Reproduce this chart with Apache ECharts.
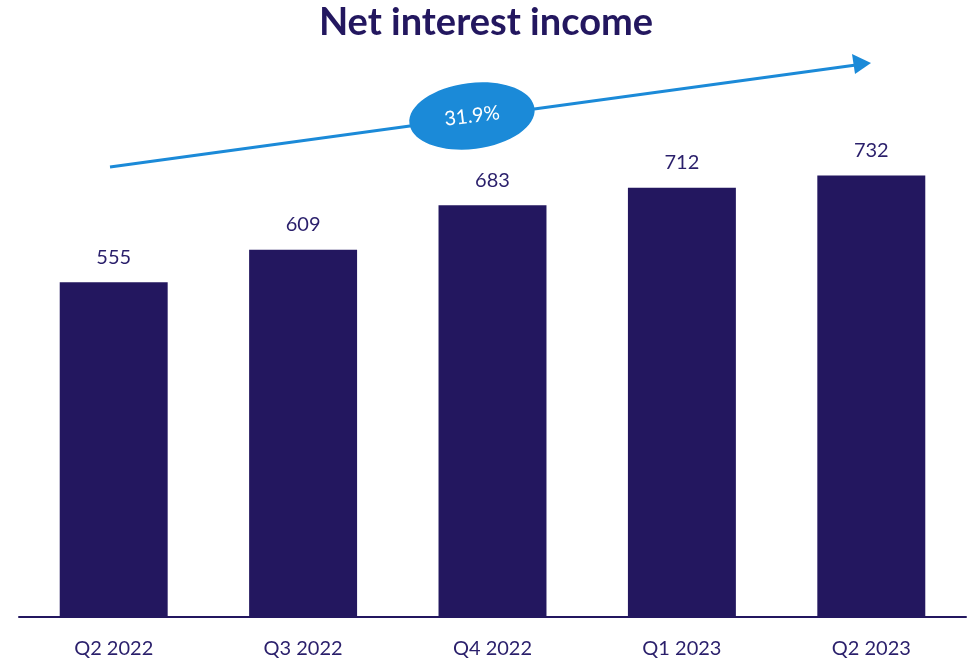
<!DOCTYPE html>
<html>
<head>
<meta charset="utf-8">
<title>Net interest income</title>
<script src="https://cdn.jsdelivr.net/npm/echarts@6/dist/echarts.min.js"></script>
<style>
  html, body { margin: 0; padding: 0; background: #ffffff; }
  #chart { width: 972px; height: 660px; }
</style>
</head>
<body>
<div id="chart"></div>
<script>
// Quarterly net interest income
const quarters = ['Q2 2022', 'Q3 2022', 'Q4 2022', 'Q1 2023', 'Q2 2023'];
const netInterestIncome = [555, 609, 683, 712, 732];
const growthLabel = '31.9%';

const navy = '#23175f';
const textNavy = '#2a1f6b';
const blue = '#1b8ad8';
const font = 'Lato, "Open Sans", sans-serif';

const chart = echarts.init(document.getElementById('chart'));

chart.setOption({
  animation: false,
  title: {
    text: 'Net interest income',
    left: 'center',
    top: -1,
    textStyle: { fontFamily: font, fontSize: 38, fontWeight: 'bold', color: navy }
  },
  grid: { left: 19, right: 6, top: 14, bottom: 43, containLabel: false },
  xAxis: {
    type: 'category',
    data: quarters,
    axisLine: { show: true, lineStyle: { color: navy, width: 2 } },
    axisTick: { show: false },
    axisLabel: { fontFamily: font, fontSize: 20, color: textNavy, margin: 22 }
  },
  yAxis: {
    type: 'value',
    min: 0,
    max: 1000,
    show: false,
    splitLine: { show: false }
  },
  series: [{
    type: 'bar',
    data: netInterestIncome,
    barCategoryGap: '43%',
    itemStyle: { color: navy },
    label: {
      show: true,
      position: 'top',
      distance: 15,
      fontFamily: font,
      fontSize: 20,
      color: textNavy
    }
  }],
  graphic: [
    // growth trend arrow
    {
      type: 'line',
      shape: { x1: 110, y1: 167, x2: 856, y2: 65 },
      style: { stroke: blue, lineWidth: 3 },
      z: 10
    },
    {
      type: 'polygon',
      shape: { points: [[871, 63], [852, 54], [855, 74]] },
      style: { fill: blue },
      z: 10
    },
    // growth badge
    {
      type: 'ellipse',
      shape: { cx: 472, cy: 116, rx: 63, ry: 33 },
      rotation: 7 * Math.PI / 180,
      originX: 472,
      originY: 116,
      style: { fill: blue },
      z: 11
    },
    {
      type: 'text',
      x: 472,
      y: 116,
      rotation: 7 * Math.PI / 180,
      style: {
        text: growthLabel,
        fill: '#ffffff',
        fontFamily: font,
        fontSize: 20,
        align: 'center',
        verticalAlign: 'middle'
      },
      z: 12
    }
  ]
});
</script>
</body>
</html>
